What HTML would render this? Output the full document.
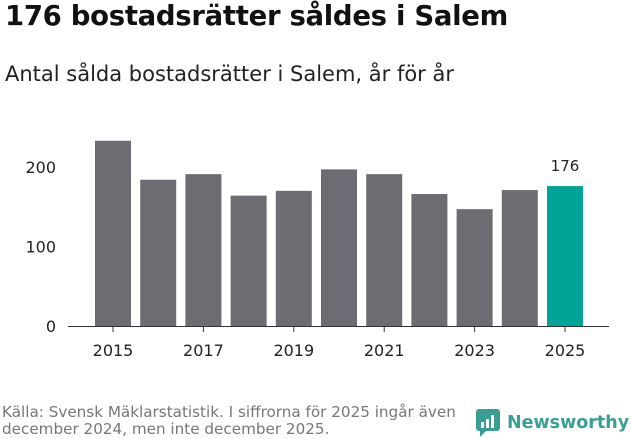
<!DOCTYPE html>
<html><head><meta charset="utf-8"><style>
body{margin:0;width:631px;height:439px;background:#fff;font-family:"DejaVu Sans","Liberation Sans",sans-serif;overflow:hidden;position:relative;color:#111}
#title{position:absolute;left:5px;top:0px;font-size:27.5px;font-weight:bold;margin:0;letter-spacing:-0.3px;white-space:nowrap}
#sub{position:absolute;left:5px;top:62px;font-size:21px;color:#222;white-space:nowrap}
#src{position:absolute;left:2px;top:404px;font-size:15.2px;color:#777;line-height:17px;white-space:nowrap}
#logo{position:absolute;left:476px;top:409px;display:flex;align-items:center;color:#3a9e92;font-size:17.5px;font-weight:bold}
svg text{font-family:"DejaVu Sans","Liberation Sans",sans-serif}
</style></head><body>
<h1 id="title">176 bostadsrätter såldes i Salem</h1>
<div id="sub">Antal sålda bostadsrätter i Salem, år för år</div>
<svg id="chart" width="631" height="439" style="position:absolute;left:0;top:0"></svg>
<div id="src">Källa: Svensk Mäklarstatistik. I siffrorna för 2025 ingår även<br>december 2024, men inte december 2025.</div>
<div id="logo"><svg width="24" height="28" viewBox="0 0 24 28"><rect x="0" y="0" width="24" height="22" rx="3" fill="#3a9e92"/><polygon points="4,22 10,22 4,28" fill="#3a9e92"/><rect x="5" y="13" width="3" height="6" fill="#fff"/><rect x="10" y="10" width="3" height="9" fill="#fff"/><rect x="15" y="6" width="3" height="13" fill="#fff"/></svg><span style="margin-left:7px">Newsworthy</span></div>
<script>
const years=[2015,2016,2017,2018,2019,2020,2021,2022,2023,2024,2025];
const values=[233,184,191,164,170,197,191,166,147,171,176];
const yTicks=[0,100,200];
const xTickLabels=[2015,2017,2019,2021,2023,2025];
const ns="http://www.w3.org/2000/svg";
const svg=document.getElementById('chart');
const y0=326,pxPer=0.795,x0=95,step=45.2,bw=36;
const y=v=>y0-v*pxPer;
const x=i=>x0+i*step;
function mk(t,a){const e=document.createElementNS(ns,t);for(const k in a)e.setAttribute(k,a[k]);svg.appendChild(e);return e;}
yTicks.forEach(v=>{
 const t=mk('text',{x:56,y:y(v)+6,'text-anchor':'end','font-size':16,fill:'#222'});t.textContent=v;
 
 
});
values.forEach((v,i)=>{
 const last=i===values.length-1;
 const r=mk('rect',{x:x(i),y:y(v),width:bw,height:v*pxPer,fill:last?'#00a398':'#6d6c72'});
 
 
 if(last){const t=mk('text',{x:x(i)+bw/2,y:y(v)-15,'text-anchor':'middle','font-size':15,fill:'#222'});t.textContent=v;
 
 }
});
const ax=mk('line',{x1:68,x2:609,y1:y0+0.5,y2:y0+0.5,stroke:'#333','stroke-width':1});


xTickLabels.forEach(yr=>{
 const i=years.indexOf(yr);const cx=x(i)+bw/2;
 const tk=mk('line',{x1:cx,x2:cx,y1:y0,y2:y0+6,stroke:'#333'});
 
 
 const t=mk('text',{x:cx,y:y0+30,'text-anchor':'middle','font-size':16,fill:'#222'});t.textContent=yr;
 
 
});
</script>
</body></html>
